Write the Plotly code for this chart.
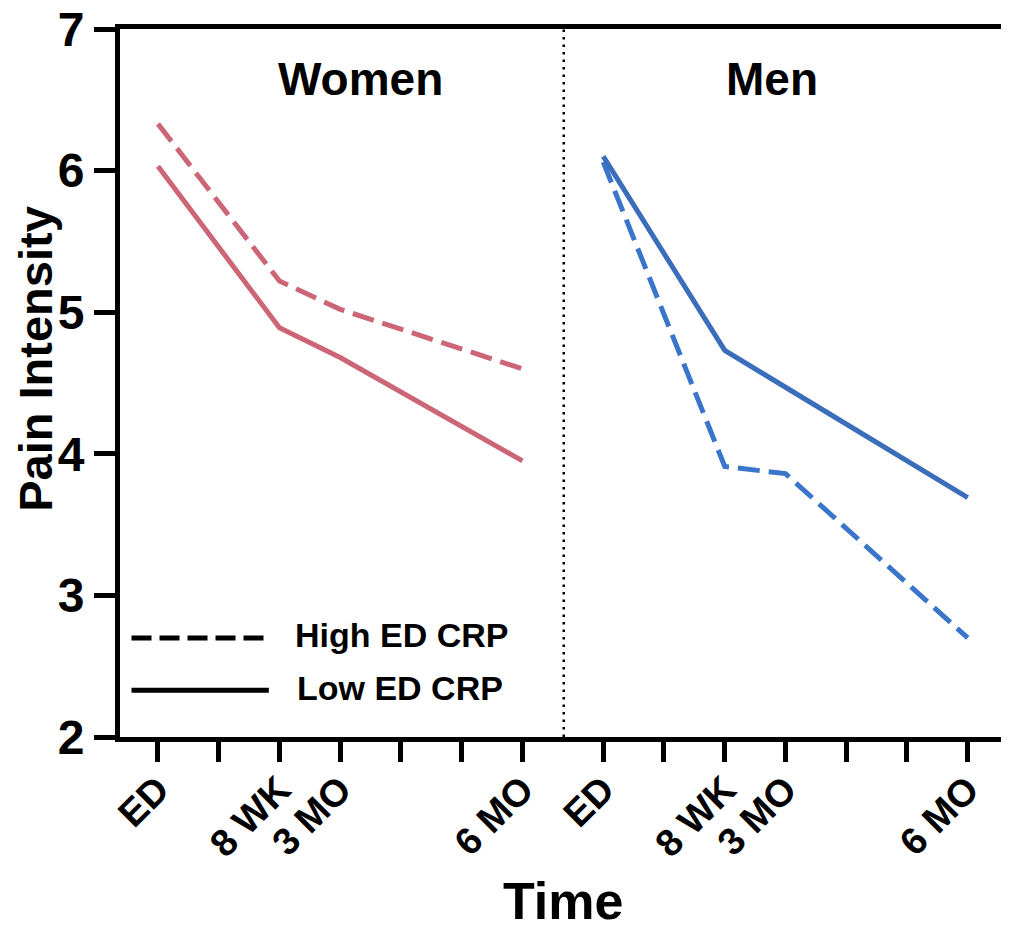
import plotly.graph_objects as go

# ---- data ----
time_labels = ["ED", "8 WK", "3 MO", "6 MO"]
time_months = [0, 2, 3, 6]
men_offset = 7.33
women_high = [6.33, 5.22, 5.02, 4.60]
women_low = [6.03, 4.89, 4.68, 3.95]
men_high = [6.06, 3.91, 3.86, 2.70]
men_low = [6.10, 4.73, 4.47, 3.69]

PINK = "#CC6677"
BLUE_S = "#3A6DBA"
BLUE_D = "#3A75CB"
FONT = "Liberation Sans"

women_x = time_months
men_x = [m + men_offset for m in time_months]

fig = go.Figure()
fig.add_trace(go.Scatter(x=women_x, y=women_high, mode="lines",
                         line=dict(color=PINK, width=5, dash="22px,9px"), showlegend=False))
fig.add_trace(go.Scatter(x=women_x, y=women_low, mode="lines",
                         line=dict(color=PINK, width=5), showlegend=False))
fig.add_trace(go.Scatter(x=men_x, y=men_high, mode="lines",
                         line=dict(color=BLUE_D, width=5, dash="22px,9px"), showlegend=False))
fig.add_trace(go.Scatter(x=men_x, y=men_low, mode="lines",
                         line=dict(color=BLUE_S, width=5), showlegend=False))

# ticks: every month in each panel
tickvals, ticktext = [], []
for off in (0, men_offset):
    for m in range(7):
        tickvals.append(m + off)
        ticktext.append(time_labels[time_months.index(m)] if m in time_months else "")

fig.update_xaxes(range=[-0.625, 13.96], tickvals=tickvals, ticktext=ticktext,
                 tickangle=-45, ticks="outside", ticklen=20, tickwidth=5, tickcolor="black",
                 showline=True, linewidth=5, linecolor="black", mirror=True,
                 showgrid=False, zeroline=False, automargin=False, ticklabeloverflow="allow",
                 ticklabelstandoff=-10,
                 tickfont=dict(family=FONT, size=38, color="black", weight="bold"))
fig.update_yaxes(range=[2, 7], tickvals=[2, 3, 4, 5, 6, 7],
                 ticks="outside", ticklen=21, tickwidth=5, tickcolor="black",
                 showline=True, linewidth=5, linecolor="black", mirror=True,
                 showgrid=False, zeroline=False, automargin=False, ticklabeloverflow="allow",
                 tickfont=dict(family=FONT, size=48, color="black", weight="bold"))

# divider
fig.add_shape(type="line", xref="x", yref="paper", x0=6.68, x1=6.68, y0=0, y1=1,
              line=dict(color="black", width=2.5, dash="2.5px,5px"))

# legend drawn manually
fig.add_shape(type="line", xref="paper", yref="paper", x0=0.013, x1=0.168, y0=0.14, y1=0.14,
              line=dict(color="black", width=5, dash="20px,8px"))
fig.add_shape(type="line", xref="paper", yref="paper", x0=0.013, x1=0.168, y0=0.066, y1=0.066,
              line=dict(color="black", width=5))

ann = [
    dict(text="High ED CRP", x=0.195, y=0.144, xanchor="left", yanchor="middle", size=34),
    dict(text="Low ED CRP", x=0.197, y=0.069, xanchor="left", yanchor="middle", size=34),
    dict(text="Women", x=0.271, y=0.929, xanchor="center", yanchor="middle", size=46),
    dict(text="Men", x=0.736, y=0.929, xanchor="center", yanchor="middle", size=46),
    dict(text="Time", x=0.5, y=-0.232, xanchor="center", yanchor="middle", size=52),
]
for a in ann:
    fig.add_annotation(xref="paper", yref="paper", x=a["x"], y=a["y"], text=a["text"],
                       showarrow=False, xanchor=a["xanchor"], yanchor=a["yanchor"],
                       font=dict(family=FONT, size=a["size"], color="black", weight="bold"))
fig.add_annotation(xref="paper", yref="paper", x=-0.095, y=0.534, text="Pain Intensity",
                   textangle=-90, showarrow=False, xanchor="center", yanchor="middle",
                   font=dict(family=FONT, size=47, color="black", weight="bold"))

fig.update_layout(width=1009, height=928, plot_bgcolor="white", paper_bgcolor="white",
                  margin=dict(l=112, r=11, t=21, b=199, autoexpand=False), showlegend=False)

fig.write_html("out.html")
